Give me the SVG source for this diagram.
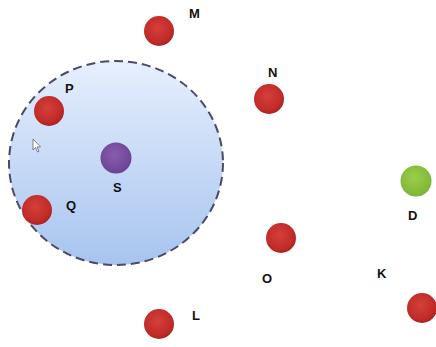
<svg xmlns="http://www.w3.org/2000/svg" width="436" height="347" viewBox="0 0 436 347">
<defs>
<radialGradient id="red" cx="0.45" cy="0.4" r="0.6">
<stop offset="0" stop-color="#d4403a"/>
<stop offset="0.8" stop-color="#c02a28"/>
<stop offset="1" stop-color="#a82420"/>
</radialGradient>
<radialGradient id="purple" cx="0.45" cy="0.4" r="0.6">
<stop offset="0" stop-color="#8a5cb0"/>
<stop offset="1" stop-color="#6c4392"/>
</radialGradient>
<radialGradient id="green" cx="0.45" cy="0.4" r="0.6">
<stop offset="0" stop-color="#9cce4a"/>
<stop offset="1" stop-color="#7eb536"/>
</radialGradient>
<linearGradient id="blue" x1="0" y1="0" x2="0" y2="1">
<stop offset="0" stop-color="#e6effd"/>
<stop offset="1" stop-color="#a7c4ef"/>
</linearGradient>
</defs>
<style>
.red{fill:url(#red)}
.lbl{font-family:"Liberation Sans",Arial,sans-serif;font-weight:bold;font-size:13px;fill:#111}
</style>
<rect width="436" height="347" fill="#ffffff"/>
<g id="region">
<ellipse cx="116" cy="163" rx="107" ry="102" fill="url(#blue)" stroke="#4b4b68" stroke-width="2" stroke-dasharray="9,5"/>
</g>
<g id="connectors"></g>
<g id="P"><circle class="red" cx="49" cy="111" r="15"/><text class="lbl" x="65" y="93">P</text></g>
<g id="S"><circle cx="116" cy="158" r="15.5" fill="url(#purple)"/><text class="lbl" x="113" y="192">S</text></g>
<g id="Q"><circle class="red" cx="37" cy="210" r="15"/><text class="lbl" x="66" y="210">Q</text></g>
<g id="M"><circle class="red" cx="159" cy="31" r="15"/><text class="lbl" x="189" y="18">M</text></g>
<g id="N"><circle class="red" cx="269" cy="99" r="15"/><text class="lbl" x="268" y="77">N</text></g>
<g id="D"><circle cx="416" cy="181" r="15.5" fill="url(#green)"/><text class="lbl" x="408" y="220">D</text></g>
<g id="O"><circle class="red" cx="281" cy="238" r="15"/><text class="lbl" x="262" y="283">O</text></g>
<g id="K"><circle class="red" cx="422" cy="308" r="15"/><text class="lbl" x="377" y="278">K</text></g>
<g id="L"><circle class="red" cx="159" cy="324" r="15"/><text class="lbl" x="192" y="320">L</text></g>
<path d="M33,139 L33,150 L35.5,147.5 L37.5,152 L39,151.3 L37,147 L40.5,147 Z" fill="#ffffff" stroke="#666" stroke-width="0.8"/>
</svg>
